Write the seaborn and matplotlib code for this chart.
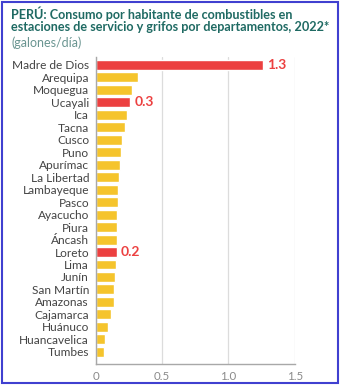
import matplotlib
matplotlib.use("Agg")
import matplotlib.pyplot as plt
import seaborn as sns
import pandas as pd
from matplotlib.patches import Rectangle

departamentos = ["Madre de Dios", "Arequipa", "Moquegua", "Ucayali", "Ica", "Tacna",
                 "Cusco", "Puno", "Apurímac", "La Libertad", "Lambayeque", "Pasco",
                 "Ayacucho", "Piura", "Áncash", "Loreto", "Lima", "Junín",
                 "San Martín", "Amazonas", "Cajamarca", "Huánuco", "Huancavelica", "Tumbes"]
consumo = [1.26, 0.32, 0.275, 0.26, 0.237, 0.219, 0.194, 0.189, 0.181, 0.172, 0.169, 0.164,
           0.159, 0.159, 0.159, 0.159, 0.154, 0.146, 0.139, 0.139, 0.113, 0.093, 0.071, 0.058]
resaltado = ["Madre de Dios", "Ucayali", "Loreto"]
etiquetas = {"Madre de Dios": "1.3", "Ucayali": "0.3", "Loreto": "0.2"}
xticks = [0, 0.5, 1.0, 1.5]
xticklabels = ["0", "0.5", "1.0", "1.5"]

title = "PERÚ: Consumo por habitante de combustibles en\nestaciones de servicio y grifos por departamentos, 2022*"
subtitle = "(galones/día)"

YELLOW = "#f5c42c"
RED = "#ec4040"
TEAL = "#1f6a63"

df = pd.DataFrame({"dep": departamentos, "val": consumo})
df["grupo"] = ["r" if d in resaltado else "y" for d in df["dep"]]

sns.set_style("white")
plt.rcParams["font.family"] = ["Lato", "DejaVu Sans"]

fig = plt.figure(figsize=(3.43, 3.85), dpi=100)
ax = fig.add_axes([96 / 343, (385 - 364) / 385, (294.7 - 96) / 343, (364 - 57) / 385])

sns.barplot(data=df, x="val", y="dep", hue="grupo", palette={"r": RED, "y": YELLOW},
            dodge=False, legend=False, width=0.8, ax=ax, saturation=1, orient="h")

ax.set_xlim(0, 1.5)
ax.set_ylim(23.97, -0.62)
ax.set_xticks(xticks)
ax.set_xticklabels(xticklabels)
ax.set_xlabel("")
ax.set_ylabel("")
ax.grid(axis="x", color="#dcdcdc", linewidth=0.9)
ax.set_axisbelow(True)
for s in ["top", "right"]:
    ax.spines[s].set_visible(False)
for s in ["left", "bottom"]:
    ax.spines[s].set_color("#a8a8a8")
    ax.spines[s].set_linewidth(1.0)
ax.tick_params(axis="x", length=3.5, width=1, color="#a8a8a8", labelsize=8.3,
               labelcolor="#8a8a8a", pad=1.5)
ax.tick_params(axis="y", length=0, labelsize=8.6, labelcolor="#444444", pad=5)

for i, d in enumerate(departamentos):
    if d in etiquetas:
        ax.text(consumo[i] + 0.03, i, etiquetas[d], color=RED, fontweight="bold",
                fontsize=10, va="center", ha="left")

fig.text(11 / 343, 1 - 6.5 / 385, title, color=TEAL, fontweight="bold", fontsize=9.1,
         va="top", ha="left", linespacing=1.0)
fig.text(11 / 343, 1 - 36.5 / 385, subtitle, color="#6a9591", fontsize=9.0,
         va="top", ha="left")

fig.patches.append(Rectangle((1.5 / 343, 1 - 382.5 / 385), 336.5 / 343, 381 / 385,
                             transform=fig.transFigure, fill=False,
                             edgecolor="#4040d0", linewidth=1.5))

fig.savefig("out.png", dpi=100)
